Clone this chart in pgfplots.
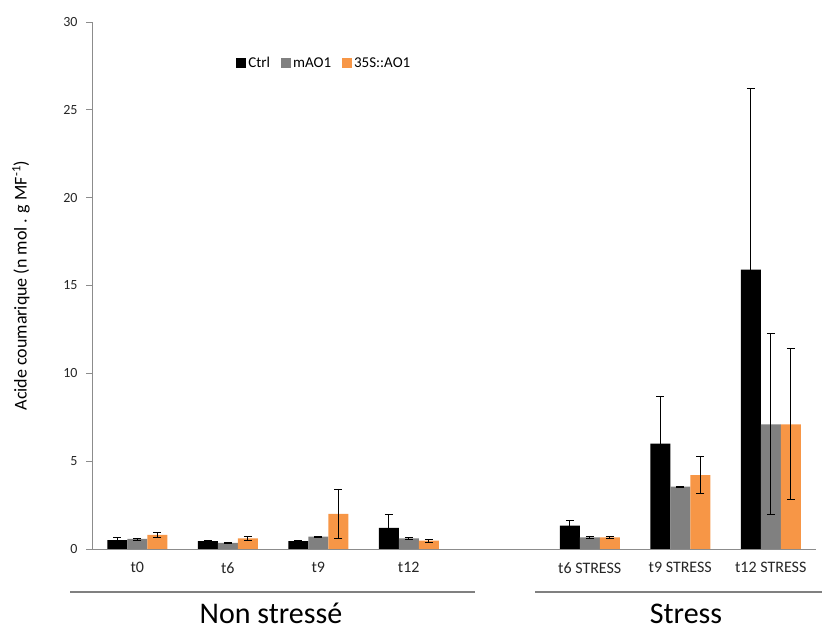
\documentclass[border=0pt]{standalone}
\usepackage{pgfplots}
\pgfplotsset{compat=1.18}
\usepackage{fontspec}
\setmainfont{Carlito}
\definecolor{orangeA}{HTML}{F79646}
\definecolor{grayA}{HTML}{808080}
\begin{document}
\begin{tikzpicture}
\useasboundingbox (0,0) rectangle (822pt,631pt);
\begin{axis}[
 at={(92pt,82pt)}, anchor=south west,
 scale only axis, width=724pt, height=527pt,
 xmin=-0.5, xmax=7.5, ymin=0, ymax=30,
 ybar=0pt, bar width=20pt,
 clip=false,
 axis x line*=bottom, axis y line*=left,
 axis line style={black!45, line width=0.8pt, -},
 xtick={0,1,2,3,5,6,7},
 xticklabels={t0,t6,t9,t12,t6 STRESS,t9 STRESS,t12 STRESS},
 ytick={0,5,...,30},
 tick align=outside, major tick length=6pt,
 xtick style={draw=none},
 ytick style={black!45, line width=0.8pt},
 xticklabel style={font=\fontsize{16}{18}\selectfont, text=black!85, yshift=-4pt},
 yticklabel style={font=\fontsize{14}{16}\selectfont, text=black!85, xshift=-5pt},
 /pgf/number format/assume math mode=true,
 ylabel={Acide coumarique (n mol . g MF\textsuperscript{-1})},
 ylabel style={at={(axis description cs:-0.098,0.5)}, anchor=center, font=\fontsize{18}{20}\selectfont},
 legend style={at={(0.195,0.922)}, anchor=west, draw=none, fill=none, legend columns=3,
   font=\fontsize{15}{17}\selectfont,
   /tikz/every even column/.append style={column sep=9pt},
   /tikz/every odd column/.append style={column sep=0pt}},
 legend image code/.code={\fill[#1, draw=none] (0pt,-5pt) rectangle (10pt,5pt);},
 error bars/y dir=both, error bars/y explicit,
 error bars/error bar style={black, line width=0.8pt},
 error bars/error mark options={rotate=90, mark size=4pt, black, line width=0.8pt},
]
\addplot[fill=black, draw=none] table[x=x, y=y, y error=e] {
x y e
0 0.50 0.17
1 0.45 0.03
2 0.45 0.03
3 1.20 0.75
5 1.33 0.27
6 6.00 2.70
7 15.90 10.30
};
\addplot[fill=grayA, draw=none] table[x=x, y=y, y error=e] {
x y e
0 0.57 0.06
1 0.35 0.02
2 0.70 0.02
3 0.60 0.06
5 0.66 0.08
6 3.55 0.03
7 7.10 5.15
};
\addplot[fill=orangeA, draw=none] table[x=x, y=y, y error=e] {
x y e
0 0.80 0.15
1 0.60 0.10
2 2.00 1.42
3 0.48 0.08
5 0.66 0.04
6 4.20 1.05
7 7.10 4.30
};
\legend{Ctrl, mAO1, 35S::AO1}
\end{axis}
\draw[black!50, line width=1.5pt] (70pt,39pt) -- (475pt,39pt);
\draw[black!50, line width=1.5pt] (535pt,39pt) -- (822pt,39pt);
\node[anchor=base, font=\fontsize{30}{34}\selectfont, inner sep=0pt] at (271pt,7pt) {Non stressé};
\node[anchor=base, font=\fontsize{30}{34}\selectfont, inner sep=0pt] at (686pt,7pt) {Stress};
\end{tikzpicture}
\end{document}
